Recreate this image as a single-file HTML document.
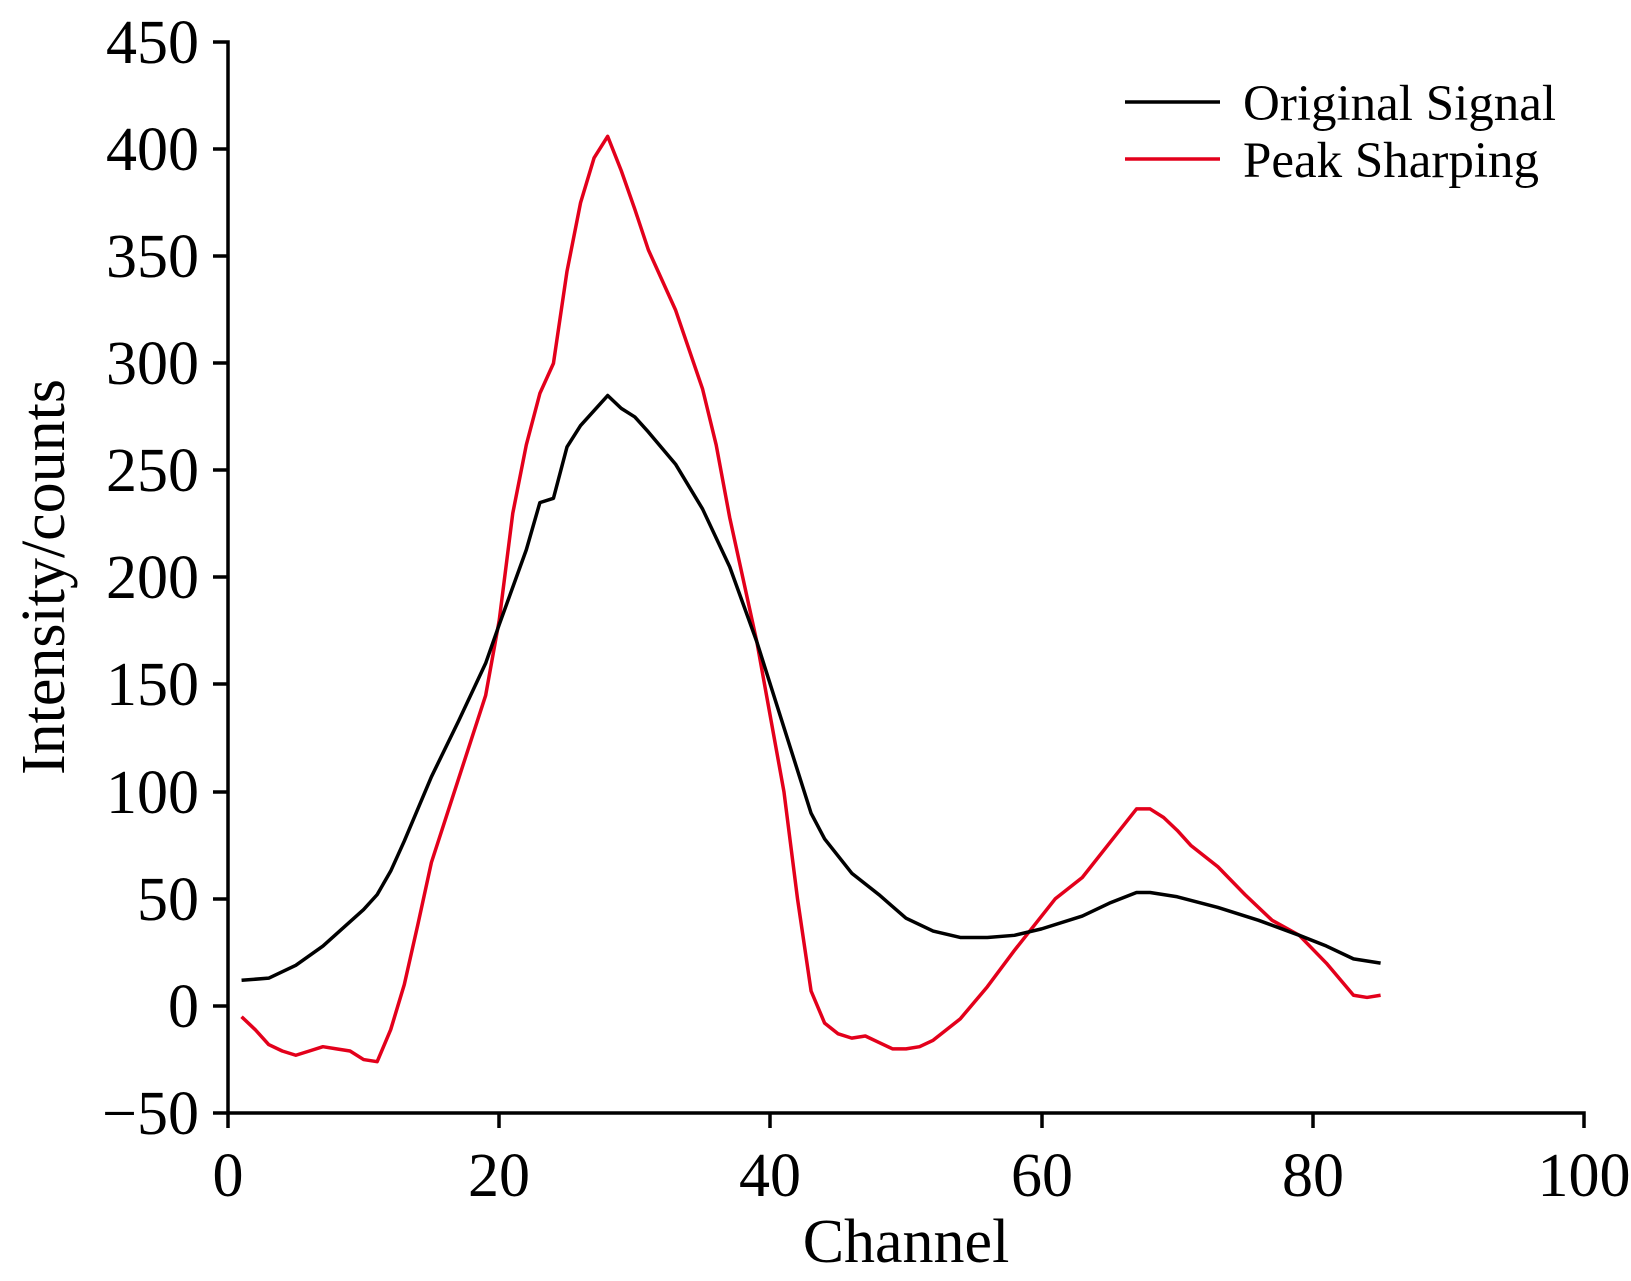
<!DOCTYPE html>
<html><head><meta charset="utf-8"><style>body{margin:0;background:#fff}svg{display:block}text{font-family:"Liberation Serif",serif;fill:#000}</style></head>
<body>
<svg width="1631" height="1281" viewBox="0 0 1631 1281" xmlns="http://www.w3.org/2000/svg">
<g stroke="#000" stroke-width="3.5" fill="none">
<path d="M213,42 H228 V1113 H1584 V1128"/>
<path d="M213,149 H228 M213,256 H228 M213,363 H228 M213,470 H228 M213,577 H228 M213,684 H228 M213,792 H228 M213,899 H228 M213,1006 H228 M213,1113 H228"/>
<path d="M228,1113 V1128 M499,1113 V1128 M770,1113 V1128 M1042,1113 V1128 M1313,1113 V1128"/>
</g>
<g font-size="62" text-anchor="end">
<text x="199" y="63">450</text><text x="199" y="170">400</text><text x="199" y="277">350</text><text x="199" y="384">300</text><text x="199" y="491">250</text><text x="199" y="598">200</text><text x="199" y="705">150</text><text x="199" y="813">100</text><text x="199" y="920">50</text><text x="199" y="1027">0</text><text x="199" y="1134">−50</text>
</g>
<g font-size="62" text-anchor="middle">
<text x="228" y="1196">0</text><text x="499" y="1196">20</text><text x="770" y="1196">40</text><text x="1042" y="1196">60</text><text x="1313" y="1196">80</text><text x="1584" y="1196">100</text>
<text x="906" y="1262">Channel</text>
<text transform="translate(64,577) rotate(-90)">Intensity/counts</text>
</g>
<g transform="translate(228,1006) scale(13.56,-2.142)" fill="none" stroke-width="3.5" stroke-linejoin="round">
<polyline vector-effect="non-scaling-stroke" stroke="#e3001b" points="1,-5 2,-11 3,-18 4,-21 5,-23 6,-21 7,-19 8,-20 9,-21 10,-25 11,-26 12,-11 13,10 14,38 15,67 17,106 19,145 20,180 21,230 22,262 23,286 24,300 25,343 26,375 27,396 28,406 29,390 30,372 31,353 33,325 35,288 36,262 37,228 39,170 41,100 42,50 43,7 44,-8 45,-13 46,-15 47,-14 48,-17 49,-20 50,-20 51,-19 52,-16 54,-6 56,9 58,26 60,42 61,50 63,60 65,76 67,92 68,92 69,88 70,82 71,75 73,65 75,52 77,40 79,33 81,20 83,5 84,4 85,5"/>
<polyline vector-effect="non-scaling-stroke" stroke="#000" points="1,12 3,13 5,19 7,28 10,45 11,52 12,63 13,77 15,107 17,133 19,160 20,178 22,213 23,235 24,237 25,261 26,271 27,278 28,285 29,279 30,275 31,268 33,253 35,232 37,205 39,170 41,130 43,90 44,78 46,62 48,52 50,41 52,35 54,32 56,32 58,33 60,36 63,42 65,48 67,53 68,53 70,51 73,46 76,40 79,33 81,28 83,22 85,20"/>
</g>
<line x1="1125" y1="102" x2="1220" y2="102" stroke="#000" stroke-width="3.5"/>
<line x1="1125" y1="159" x2="1220" y2="159" stroke="#e3001b" stroke-width="3.5"/>
<g font-size="51"><text x="1243" y="120">Original Signal</text><text x="1243" y="177">Peak Sharping</text></g>
</svg>
</body></html>
